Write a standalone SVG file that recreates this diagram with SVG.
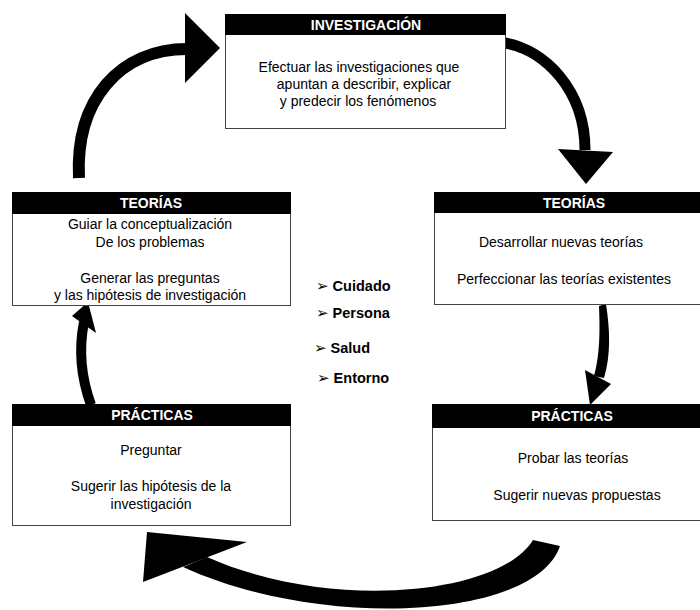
<svg xmlns="http://www.w3.org/2000/svg" width="700" height="610" viewBox="0 0 700 610">
<style>
.box{fill:#fff;stroke:#444;stroke-width:1}
.hdr{fill:#000}
.ht{font-family:"Liberation Sans",Arial,sans-serif;font-size:14px;font-weight:bold;fill:#fff;text-anchor:middle}
.bt{font-family:"Liberation Sans",Arial,sans-serif;font-size:14px;fill:#000;text-anchor:middle}
.li{font-family:"Liberation Sans","DejaVu Sans",Arial,sans-serif;font-size:14.5px;font-weight:bold;fill:#000}
.bl{font-family:"DejaVu Sans",sans-serif;font-size:15px;font-weight:normal}
.sh{fill:none;stroke:#000}
.hd{fill:#000}
</style>
<rect width="700" height="610" fill="#fff"/>
<g id="connectors">
<path class="sh" d="M79,178 C75,100 120,49 187,49" stroke-width="12"/>
<polygon class="hd" points="185,13 220,48 185,83"/>
<path class="sh" d="M505,43 C545,50 585,90 585,150" stroke-width="11"/>
<polygon class="hd" points="558,149 613,152 586,184"/>
<path class="hd" d="M599,306 L606,304 C610,330 611,355 604,378 L594,376 C600,355 600,330 599,306 Z"/>
<polygon class="hd" points="585,370 611,384 590,405"/>
<path class="hd" d="M533,540 L560,546 C535,620 320,630 183,567 L207,557 C330,612 500,595 533,540 Z"/>
<polygon class="hd" points="147,532 247,542 143,582"/>
<path class="sh" d="M91,405 C82,380 78,352 84,322" stroke-width="10"/>
<polygon class="hd" points="88,302 72,316 96,333"/>
</g>
<g id="investigacion">
<rect class="box" x="225.5" y="14.5" width="280" height="114"/>
<rect class="hdr" x="225" y="14" width="281" height="21"/>
<text class="ht" x="366" y="30">INVESTIGACIÓN</text>
<text class="bt" x="359" y="72">Efectuar las investigaciones que</text>
<text class="bt" x="364" y="89">apuntan a describir, explicar</text>
<text class="bt" x="358" y="106">y predecir los fenómenos</text>
</g>
<g id="teorias-der">
<rect class="box" x="434.5" y="192.5" width="280" height="112"/>
<rect class="hdr" x="434" y="192" width="281" height="21"/>
<text class="ht" x="574" y="208">TEORÍAS</text>
<text class="bt" x="561" y="247">Desarrollar nuevas teorías</text>
<text class="bt" x="564" y="284">Perfeccionar las teorías existentes</text>
</g>
<g id="practicas-der">
<rect class="box" x="432.5" y="404.5" width="280" height="116"/>
<rect class="hdr" x="432" y="404" width="281" height="24"/>
<text class="ht" x="572" y="421">PRÁCTICAS</text>
<text class="bt" x="573" y="463">Probar las teorías</text>
<text class="bt" x="577" y="500">Sugerir nuevas propuestas</text>
</g>
<g id="teorias-izq">
<rect class="box" x="12.5" y="192.5" width="278" height="113"/>
<rect class="hdr" x="12" y="192" width="279" height="22"/>
<text class="ht" x="151" y="208">TEORÍAS</text>
<text class="bt" x="150" y="229">Guiar la conceptualización</text>
<text class="bt" x="150" y="247">De los problemas</text>
<text class="bt" x="150" y="283">Generar las preguntas</text>
<text class="bt" x="150" y="300">y las hipótesis de investigación</text>
</g>
<g id="practicas-izq">
<rect class="box" x="12.5" y="404.5" width="278" height="121"/>
<rect class="hdr" x="12" y="404" width="279" height="22"/>
<text class="ht" x="152" y="420">PRÁCTICAS</text>
<text class="bt" x="151" y="455">Preguntar</text>
<text class="bt" x="151" y="491">Sugerir las hipótesis de la</text>
<text class="bt" x="151" y="509">investigación</text>
</g>
<g id="lista">
<text class="li" x="316" y="291"><tspan class="bl">➢</tspan> Cuidado</text>
<text class="li" x="316" y="318"><tspan class="bl">➢</tspan> Persona</text>
<text class="li" x="314" y="353"><tspan class="bl">➢</tspan> Salud</text>
<text class="li" x="317" y="383"><tspan class="bl">➢</tspan> Entorno</text>
</g>
</svg>
